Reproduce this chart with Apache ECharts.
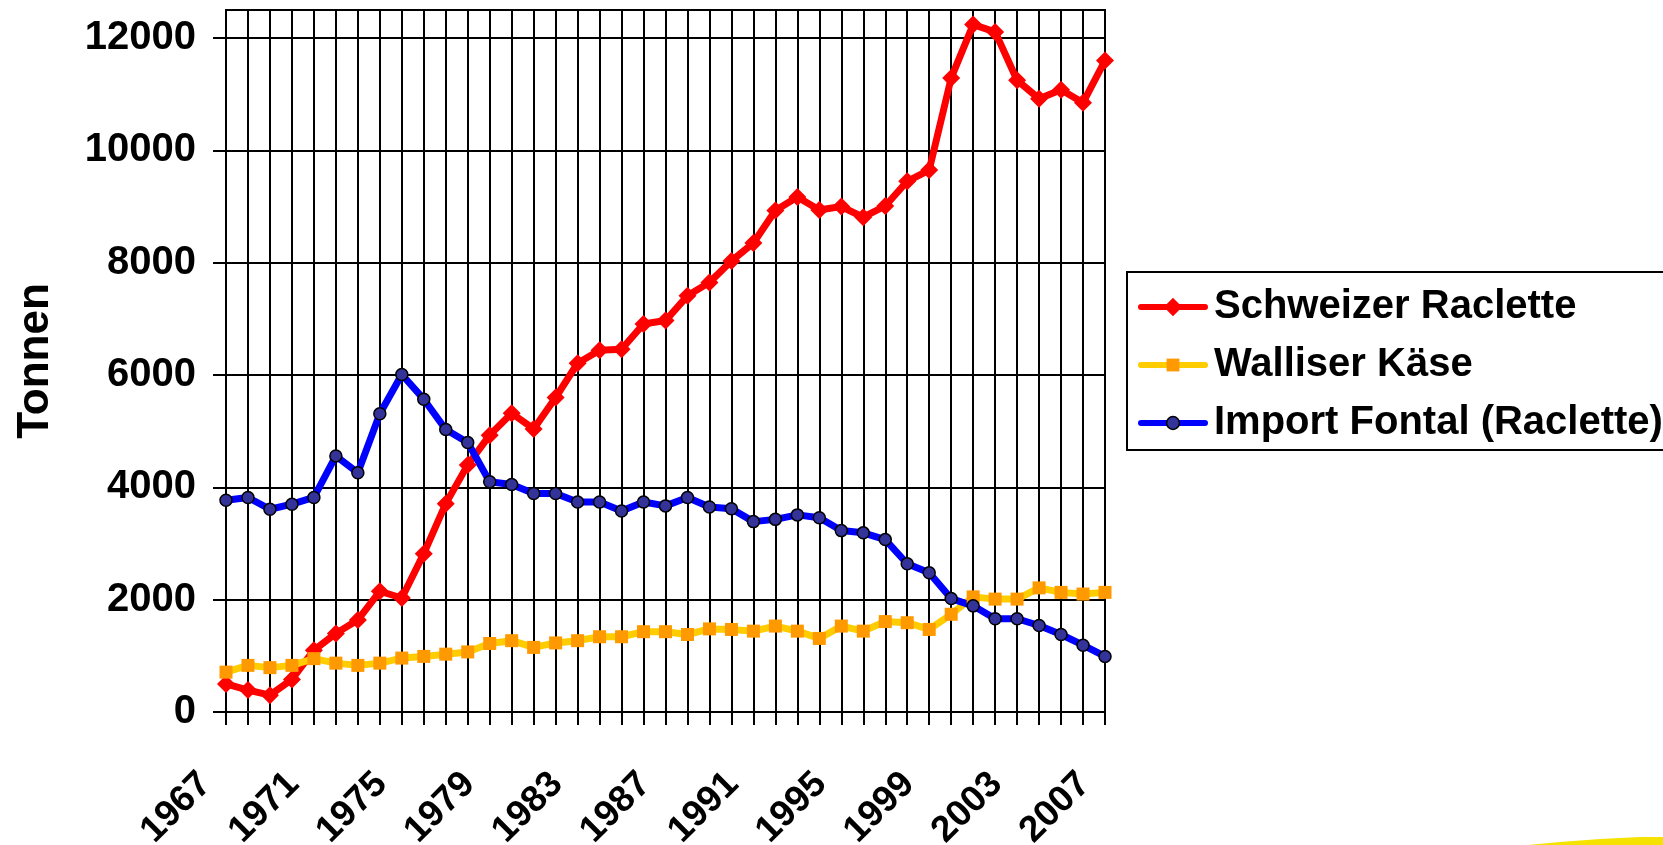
<!DOCTYPE html>
<html>
<head>
<meta charset="utf-8">
<script src="https://cdn.jsdelivr.net/npm/echarts@6/dist/echarts.min.js"></script>
<style>
  html, body { margin: 0; padding: 0; background: #fff; }
  #chart { width: 1663px; height: 845px; }
</style>
</head>
<body>
<div id="chart"></div>
<script>
const years = ['1967','1968','1969','1970','1971','1972','1973','1974','1975','1976',
               '1977','1978','1979','1980','1981','1982','1983','1984','1985','1986',
               '1987','1988','1989','1990','1991','1992','1993','1994','1995','1996',
               '1997','1998','1999','2000','2001','2002','2003','2004','2005','2006',
               '2007'];
const schweizerRaclette = [500, 390, 300, 580, 1100, 1400, 1640, 2150, 2030, 2820,
                           3710, 4400, 4930, 5320, 5040, 5600, 6210, 6440, 6460, 6910,
                           6970, 7410, 7650, 8030, 8350, 8930, 9170, 8940, 9000, 8810,
                           9010, 9450, 9650, 11290, 12240, 12110, 11250, 10920, 11080, 10850,
                           11600];
const walliserKaese = [710, 830, 790, 830, 950, 870, 830, 870, 960, 990,
                       1030, 1070, 1220, 1270, 1150, 1230, 1270, 1340, 1340, 1430,
                       1430, 1380, 1480, 1470, 1440, 1530, 1440, 1310, 1530, 1440,
                       1610, 1590, 1470, 1740, 2050, 2010, 2010, 2210, 2130, 2100,
                       2130];
const importFontal = [3770, 3820, 3610, 3700, 3820, 4560, 4260, 5310, 6010, 5570,
                      5030, 4800, 4100, 4050, 3890, 3890, 3740, 3740, 3580, 3740,
                      3670, 3820, 3650, 3620, 3390, 3430, 3510, 3460, 3230, 3190,
                      3070, 2640, 2480, 2020, 1890, 1660, 1660, 1540, 1380, 1190,
                      990];
const yTicks = [0, 2000, 4000, 6000, 8000, 10000, 12000];
const seriesNames = ['Schweizer Raclette', 'Walliser Käse', 'Import Fontal (Raclette)'];
const yAxisName = 'Tonnen';

const FONT = '"Liberation Sans", Arial, Helvetica, sans-serif';
const chart = echarts.init(document.getElementById('chart'), null, { renderer: 'canvas' });

chart.setOption({
  animation: false,
  backgroundColor: '#ffffff',
  textStyle: { fontFamily: FONT },
  grid: {
    left: 226, right: 558, top: 10, bottom: 133,
    show: true, borderColor: '#000', borderWidth: 2,
    containLabel: false, outerBoundsMode: 'none'
  },
  legend: {
    orient: 'vertical',
    left: 1127, top: 272,
    padding: [13, 60, 5, 11],
    itemGap: 14,
    itemWidth: 64,
    itemHeight: 16,
    borderColor: '#000',
    borderWidth: 2,
    backgroundColor: '#fff',
    lineStyle: { width: 6, cap: 'round' },
    textStyle: { fontFamily: FONT, fontSize: 40, fontWeight: 'bold', color: '#000', lineHeight: 44, padding: [0, 0, 0, 4] },
    data: [
      { name: seriesNames[0], itemStyle: { color: '#FF0000', borderColor: '#FF0000', borderWidth: 4 } },
      { name: seriesNames[1], itemStyle: { color: '#FF9900', borderWidth: 0 } },
      { name: seriesNames[2], itemStyle: { color: '#333399', borderColor: '#000', borderWidth: 1.5 } }
    ]
  },
  xAxis: {
    type: 'category',
    data: years,
    boundaryGap: false,
    axisLine: { show: true, lineStyle: { color: '#000', width: 2 } },
    axisTick: { show: true, interval: 0, length: 13, lineStyle: { color: '#000', width: 2 } },
    splitLine: { show: true, interval: 0, lineStyle: { color: '#000', width: 2 } },
    axisLabel: {
      interval: 3, rotate: 45, margin: 46,
      fontFamily: FONT, fontSize: 37, fontWeight: 'bold', color: '#000',
      padding: [0, 29, 0, 0]
    }
  },
  yAxis: {
    type: 'value',
    min: 0, max: 12500, interval: 2000,
    name: yAxisName,
    nameLocation: 'middle',
    nameRotate: 90,
    nameGap: 168,
    nameTextStyle: { fontFamily: FONT, fontSize: 44, fontWeight: 'bold', color: '#000' },
    axisLine: { show: true, lineStyle: { color: '#000', width: 2 } },
    axisTick: { show: true, length: 13, lineStyle: { color: '#000', width: 2 }, customValues: yTicks },
    splitLine: { show: true, lineStyle: { color: '#000', width: 2 } },
    axisLabel: {
      margin: 30, customValues: yTicks,
      formatter: function (v) { return String(v); },
      fontFamily: FONT, fontSize: 40, fontWeight: 'bold', color: '#000'
    }
  },
  graphic: [{
    type: 'polygon',
    silent: true,
    shape: { points: [[1528, 845], [1560, 842], [1600, 839], [1640, 837], [1663, 837], [1663, 845]] },
    style: { fill: '#F6E200' }
  }],
  series: [
    {
      name: seriesNames[0], type: 'line', data: schweizerRaclette,
      symbol: 'diamond', symbolSize: 18, showAllSymbol: true,
      lineStyle: { color: '#FF0000', width: 7 },
      itemStyle: { color: '#FF0000' }
    },
    {
      name: seriesNames[1], type: 'line', data: walliserKaese,
      symbol: 'rect', symbolSize: 13, showAllSymbol: true,
      lineStyle: { color: '#FFCC00', width: 7 },
      itemStyle: { color: '#FF9900' }
    },
    {
      name: seriesNames[2], type: 'line', data: importFontal,
      symbol: 'circle', symbolSize: 12, showAllSymbol: true,
      lineStyle: { color: '#0000FF', width: 7 },
      itemStyle: { color: '#333399', borderColor: '#000', borderWidth: 1.5 }
    }
  ]
});
</script>
</body>
</html>
